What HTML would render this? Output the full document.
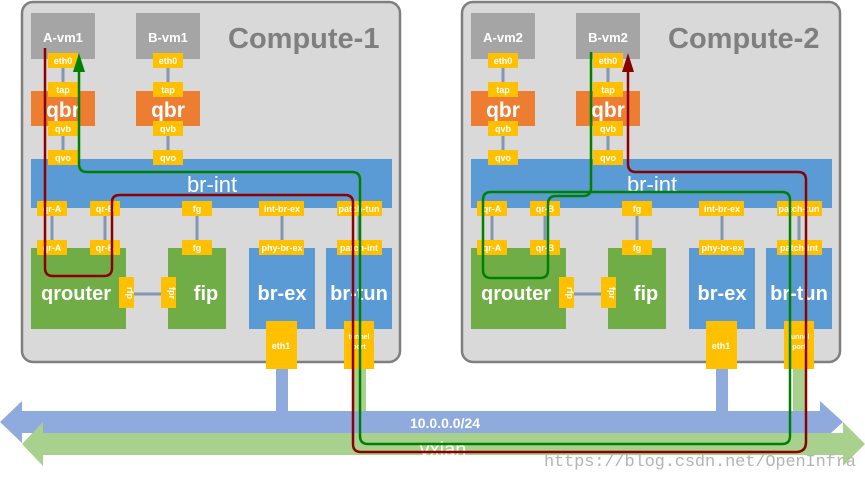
<!DOCTYPE html>
<html><head><meta charset="utf-8"><style>
body{margin:0;background:#fff}
svg{display:block;font-family:"Liberation Sans",sans-serif;font-weight:bold}
</style></head><body>
<svg width="865" height="479" viewBox="0 0 865 479" xmlns="http://www.w3.org/2000/svg">
<defs>
<g id="node">
  <rect x="0" y="0" width="378" height="360" rx="11" fill="#d9d9d9" stroke="#7f7f7f" stroke-width="2.5"/>
  <g stroke="#8497b0" stroke-width="3">
    <line x1="41" y1="60" x2="41" y2="160"/><line x1="146" y1="60" x2="146" y2="160"/>
    <line x1="30" y1="206" x2="30" y2="246"/><line x1="83" y1="206" x2="83" y2="246"/>
    <line x1="175" y1="206" x2="175" y2="246"/><line x1="260" y1="206" x2="260" y2="246"/>
    <line x1="337" y1="206" x2="337" y2="246"/>
    <line x1="110" y1="292" x2="142" y2="292"/>
  </g>
  <rect x="9" y="11" width="64" height="46" fill="#a5a5a5"/>
  <rect x="114" y="11" width="64" height="46" fill="#a5a5a5"/>
  <rect x="9" y="89" width="64" height="35" fill="#ed7d31"/>
  <rect x="114" y="89" width="64" height="35" fill="#ed7d31"/>
  <text x="41" y="115" fill="#fff" font-size="21" text-anchor="middle">qbr</text>
  <text x="146" y="115" fill="#fff" font-size="21" text-anchor="middle">qbr</text>
  <rect x="9" y="157" width="361" height="49" fill="#5b9bd5"/>
  <text x="190" y="190" fill="#fff" font-size="22" font-weight="normal" text-anchor="middle">br-int</text>
  <rect x="9" y="246" width="95" height="81" fill="#70ad47"/>
  <rect x="146" y="246" width="58" height="81" fill="#70ad47"/>
  <rect x="227" y="246" width="66" height="81" fill="#5b9bd5"/>
  <rect x="304" y="246" width="66" height="81" fill="#5b9bd5"/>
  <text x="54" y="298" fill="#fff" font-size="20" text-anchor="middle">qrouter</text>
  <text x="184" y="298" fill="#fff" font-size="20" text-anchor="middle">fip</text>
  <text x="260" y="298" fill="#fff" font-size="20" text-anchor="middle">br-ex</text>
  <text x="337" y="298" fill="#fff" font-size="20" text-anchor="middle">br-tun</text>
  <g fill="#ffc000">
    <rect x="26" y="51" width="30" height="15"/><rect x="131" y="51" width="30" height="15"/>
    <rect x="26" y="80" width="30" height="15"/><rect x="131" y="80" width="30" height="15"/>
    <rect x="26" y="119" width="30" height="15"/><rect x="131" y="119" width="30" height="15"/>
    <rect x="26" y="148" width="30" height="15"/><rect x="131" y="148" width="30" height="15"/>
    <rect x="15" y="199" width="30" height="15"/><rect x="68" y="199" width="30" height="15"/>
    <rect x="160" y="199" width="30" height="15"/><rect x="237" y="199" width="45" height="15"/>
    <rect x="315" y="199" width="45" height="15"/>
    <rect x="15" y="238" width="30" height="15"/><rect x="68" y="238" width="30" height="15"/>
    <rect x="160" y="238" width="30" height="15"/><rect x="237" y="238" width="45" height="15"/>
    <rect x="315" y="238" width="45" height="15"/>
    <rect x="97" y="275" width="15" height="31"/><rect x="139" y="275" width="15" height="31"/>
    <rect x="244" y="319" width="31" height="48"/><rect x="322" y="319" width="30" height="48"/>
  </g>
  <g fill="#fff" font-size="9" text-anchor="middle">
    <text x="41" y="62">eth0</text><text x="146" y="62">eth0</text>
    <text x="41" y="91">tap</text><text x="146" y="91">tap</text>
    <text x="41" y="130">qvb</text><text x="146" y="130">qvb</text>
    <text x="41" y="159">qvo</text><text x="146" y="159">qvo</text>
    <text x="30" y="210">qr-A</text><text x="83" y="210">qr-B</text><text x="175" y="210">fg</text>
    <text x="260" y="210">int-br-ex</text><text x="337" y="210">patch-tun</text>
    <text x="30" y="249">qr-A</text><text x="83" y="249">qr-B</text><text x="175" y="249">fg</text>
    <text x="260" y="249">phy-br-ex</text><text x="337" y="249">patch-int</text>
    <text x="259" y="347">eth1</text>
    <text x="337" y="337" font-size="7">tunnel</text><text x="337" y="347" font-size="7">port</text>
    <text transform="translate(105,291) rotate(90)">rfp</text>
    <text transform="translate(147,291) rotate(90)">fpr</text>
  </g>
</g>
</defs>
<use href="#node" x="22" y="2"/>
<use href="#node" x="462" y="2"/>
<g fill="#7f7f7f" font-size="29">
<text x="228" y="48">Compute-1</text><text x="668" y="48">Compute-2</text>
</g>
<g fill="#fff" font-size="13" text-anchor="middle">
<text x="63" y="42">A-vm1</text><text x="168" y="42">B-vm1</text>
<text x="503" y="42">A-vm2</text><text x="608" y="42">B-vm2</text>
</g>
<rect x="276" y="369" width="12" height="45" fill="#8faadc"/>
<rect x="716" y="369" width="12" height="45" fill="#8faadc"/>
<rect x="353" y="369" width="13" height="66" fill="#a9d18e"/>
<rect x="793" y="369" width="13" height="66" fill="#a9d18e"/>
<polygon points="0,422 22,401 22,411 820,411 820,401 843,422 820,443 820,433 22,433 22,443" fill="#8faadc"/>
<polygon points="22,444 43,422 43,433 843,433 843,422 865,444 843,466 843,455 43,455 43,466" fill="#a9d18e"/>
<text x="445" y="428" fill="#fff" font-size="14" text-anchor="middle">10.0.0.0/24</text>
<text x="443" y="456" fill="#fff" font-size="20" font-weight="normal" text-anchor="middle">vxlan</text>
<path d="M45,48 V268 Q45,276 53,276 H104 Q112,276 112,268 V202 Q112,195 120,195 H345 Q353,195 353,203 V444 Q353,452 361,452 H796 Q806,452 806,442 V180 Q806,172 798,172 H636 Q628,172 628,164 V70" fill="none" stroke="#8b0000" stroke-width="2.5"/>
<polygon points="628,53 622,72 634,72" fill="#8b0000"/>
<path d="M79,70 V164 Q79,172 87,172 H352 Q360,172 360,180 V436 Q360,444 368,444 H782 Q790,444 790,436 V200 Q790,192 782,192 H491 Q483,192 483,200 V270 Q483,278 491,278 H540 Q548,278 548,270 V204 Q548,196 556,196 H583 Q591,196 591,188 V52" fill="none" stroke="#008000" stroke-width="2.5"/>
<polygon points="79,53 73,72 85,72" fill="#008000"/>
<text x="544" y="466" fill="#b4b4b4" font-size="17" font-weight="normal" font-family="Liberation Mono,monospace" textLength="312">https://blog.csdn.net/OpenInfra</text>
</svg>
</body></html>
